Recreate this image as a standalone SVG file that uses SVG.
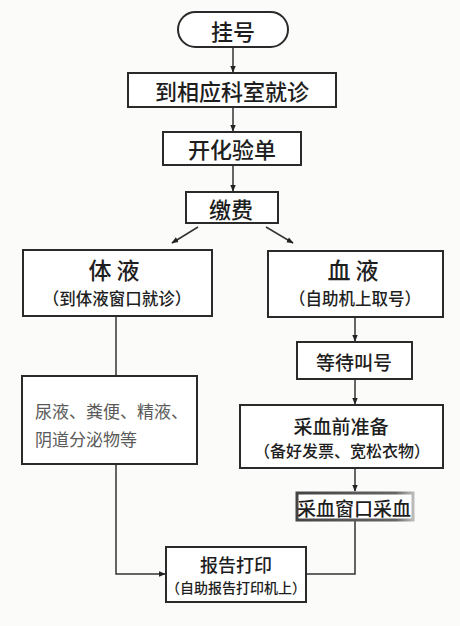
<svg xmlns="http://www.w3.org/2000/svg" width="460" height="626" viewBox="0 0 460 626">
<style>
.b{fill:#fff;stroke:#2a2a2a;stroke-width:2}
.t{font-family:"Noto Sans CJK SC",sans-serif;fill:#1e1e1e;text-anchor:middle;dominant-baseline:central;font-weight:500}
.c{stroke:#333;stroke-width:1.5;fill:none}
.g{fill:#5a5a5a;text-anchor:start;font-weight:400}
</style>
<defs>
<marker id="a" viewBox="0 0 10 10" refX="9" refY="5" markerWidth="7" markerHeight="7" orient="auto" markerUnits="userSpaceOnUse">
<path d="M0,1 L10,5 L0,9 Z" fill="#222"/>
</marker>
<linearGradient id="sh" x1="0" y1="0" x2="1" y2="0">
<stop offset="0" stop-color="#444"/>
<stop offset="0.85" stop-color="#666"/>
<stop offset="1" stop-color="#bbb"/>
</linearGradient>
</defs>
<rect width="460" height="626" fill="#fbfbf9"/>
<g id="connectors">
<line class="c" x1="233" y1="47" x2="233" y2="72" marker-end="url(#a)"/>
<line class="c" x1="233" y1="107" x2="233" y2="131" marker-end="url(#a)"/>
<line class="c" x1="233" y1="165" x2="233" y2="191" marker-end="url(#a)"/>
<line class="c" x1="198" y1="227" x2="172" y2="243" marker-end="url(#a)"/>
<line class="c" x1="266" y1="227" x2="293" y2="243" marker-end="url(#a)"/>
<line class="c" x1="355" y1="317" x2="355" y2="341" marker-end="url(#a)"/>
<line class="c" x1="355" y1="379" x2="355" y2="404" marker-end="url(#a)"/>
<line class="c" x1="355" y1="468" x2="355" y2="491" marker-end="url(#a)"/>
<line class="c" x1="116" y1="316" x2="116" y2="376"/>
<polyline class="c" points="116,464 116,574 165,574" marker-end="url(#a)"/>
<polyline class="c" points="355,520 355,574 306,574"/>
</g>
<g id="n1"><rect class="b" x="178" y="12" width="110" height="35" rx="17.5"/><text class="t" x="233" y="30" font-size="22">挂号</text></g>
<g id="n2"><rect class="b" x="128" y="73" width="208" height="34"/><text class="t" x="232" y="90" font-size="22">到相应科室就诊</text></g>
<g id="n3"><rect class="b" x="163" y="132" width="138" height="33"/><text class="t" x="232" y="148" font-size="22">开化验单</text></g>
<g id="n4"><rect class="b" x="186" y="192" width="92" height="31"/><text class="t" x="231" y="208" font-size="22">缴费</text></g>
<g id="n5"><rect class="b" x="23" y="250" width="189" height="66"/><text class="t" x="114" y="269" font-size="23" font-weight="bold">体 液</text><text class="t" x="117" y="298" font-size="16.5">（到体液窗口就诊）</text></g>
<g id="n6"><rect class="b" x="268" y="251" width="175" height="66"/><text class="t" x="353" y="269" font-size="23" font-weight="bold">血 液</text><text class="t" x="355" y="298" font-size="16.5">（自助机上取号）</text></g>
<g id="n7"><rect class="b" x="297" y="342" width="115" height="37"/><text class="t" x="354" y="361" font-size="19">等待叫号</text></g>
<g id="n8"><rect class="b" x="22" y="376" width="175" height="88"/><text class="t g" x="35" y="410" font-size="17">尿液、粪便、精液、</text><text class="t g" x="35" y="438" font-size="17">阴道分泌物等</text></g>
<g id="n9"><rect class="b" x="240" y="405" width="203" height="63"/><text class="t" x="341" y="425" font-size="19">采血前准备</text><text class="t" x="342" y="450" font-size="16">（备好发票、宽松衣物）</text></g>
<g id="n10"><rect x="297" y="493" width="116" height="27" fill="#fff" stroke="url(#sh)" stroke-width="3"/><text class="t" x="354" y="507" font-size="19">采血窗口采血</text></g>
<g id="n11"><rect class="b" x="166" y="547" width="140" height="55"/><text class="t" x="236" y="564" font-size="18" font-weight="bold">报告打印</text><text class="t" x="236" y="587" font-size="14">（自助报告打印机上）</text></g>
</svg>
